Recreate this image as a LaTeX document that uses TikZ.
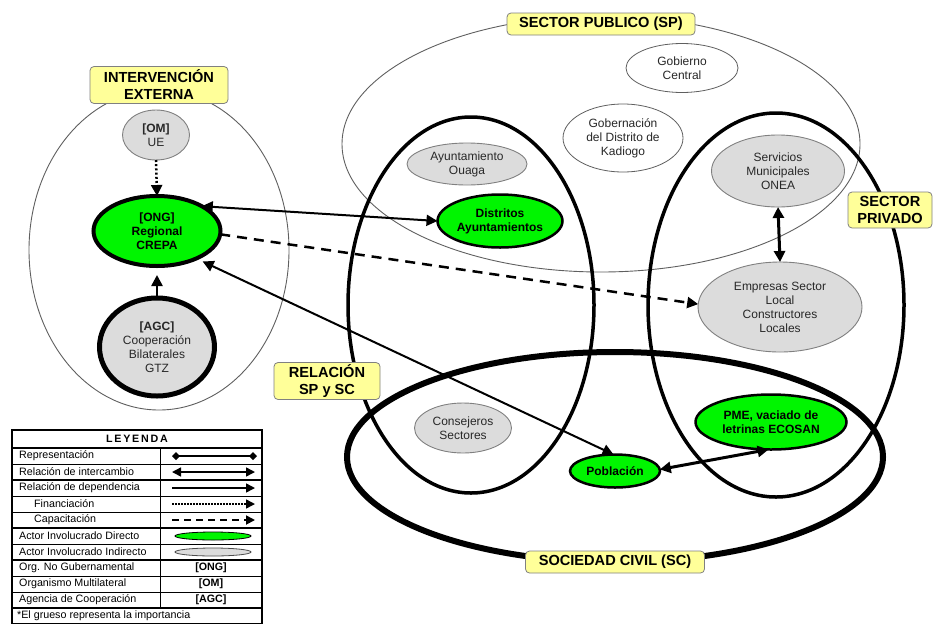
\documentclass[tikz,border=0pt]{standalone}
\usepackage{fontspec}
\setmainfont{Liberation Sans}
\usetikzlibrary{shapes.geometric,arrows.meta}
\definecolor{vgreen}{RGB}{0,245,0}
\definecolor{lgray}{RGB}{220,220,220}
\definecolor{lyellow}{RGB}{255,255,153}
\definecolor{ringgray}{RGB}{95,95,95}
\definecolor{txtgray}{RGB}{40,40,40}
\begin{document}
\begin{tikzpicture}[x=1pt,y=-1pt,
  region/.style={ellipse, inner sep=0pt, outer sep=0pt},
  thinreg/.style={region, draw=ringgray, line width=0.9pt},
  thickreg/.style={region, draw=black, line width=3.5pt},
  actor/.style={ellipse, inner sep=0pt, outer sep=0pt, align=center, text=txtgray, font=\fontsize{12}{14}\selectfont},
  whiteactor/.style={actor, draw=ringgray, line width=0.8pt, fill=white},
  grayactor/.style={actor, draw=gray, line width=0.9pt, fill=lgray},
  greenactor/.style={actor, draw=black, line width=2.5pt, fill=vgreen, text=black, font=\fontsize{12}{14}\selectfont\bfseries},
  tag/.style={draw=gray, line width=0.8pt, fill=lyellow, rounded corners=4pt, inner sep=0pt, align=center, font=\fontsize{14.6}{17}\selectfont\bfseries},
  bigtip/.style={-{Triangle[length=11pt,width=11pt]}},
  twotip/.style={{Triangle[length=11pt,width=11pt]}-{Triangle[length=11pt,width=11pt]}},
  legtext/.style={anchor=west, inner sep=0pt, font=\fontsize{10.7}{12}\selectfont},
  legcode/.style={inner sep=0pt, font=\fontsize{10.7}{12}\selectfont\bfseries},
  legtip/.style={-{Triangle[length=9pt,width=9pt]}},
]
\useasboundingbox (0,0) rectangle (933,624);

% ---------------- regions ----------------
\node[thinreg, minimum width=260pt, minimum height=320pt] (ie) at (159,250) {};
\node[thinreg, minimum width=518pt, minimum height=256pt] (sp) at (601,144) {};
\node[thickreg, minimum width=246pt, minimum height=376pt] (rel) at (471,305) {};
\node[thickreg, minimum width=256pt, minimum height=384pt] (priv) at (776,305) {};
\node[thickreg, line width=6pt, minimum width=536pt, minimum height=210pt] (sc) at (615,457) {};

% ---------------- actors ----------------
\node[grayactor, minimum width=67pt, minimum height=50pt] (ue) at (156,135) {\textbf{[OM]}\\UE};
\node[greenactor, line width=4pt, minimum width=127pt, minimum height=70pt] (crepa) at (157,231) {[ONG]\\Regional\\CREPA};
\node[grayactor, draw=black, line width=5pt, minimum width=115pt, minimum height=98pt] (agc) at (157,347) {\textbf{[AGC]}\\Cooperación\\Bilaterales\\GTZ};
\node[whiteactor, minimum width=112pt, minimum height=49pt] (gob) at (682,68) {Gobierno\\Central};
\node[whiteactor, minimum width=120pt, minimum height=68pt] (kad) at (623,138) {Gobernación\\del Distrito de\\Kadiogo};
\node[grayactor, minimum width=120pt, minimum height=42pt] (ouaga) at (467,164) {Ayuntamiento\\Ouaga};
\node[greenactor, minimum width=125pt, minimum height=53pt] (dist) at (500,221) {Distritos\\Ayuntamientos};
\node[grayactor, minimum width=133pt, minimum height=72pt] (serv) at (778,171) {Servicios\\Municipales\\ONEA};
\node[grayactor, minimum width=164pt, minimum height=90pt] (emp) at (780,307) {Empresas Sector\\Local\\Constructores\\Locales};
\node[grayactor, minimum width=97pt, minimum height=50pt] (cons) at (463,428) {Consejeros\\Sectores};
\node[greenactor, minimum width=90pt, minimum height=33pt] (pob) at (615,471) {Población};
\node[greenactor, minimum width=151pt, minimum height=55pt] (pme) at (771,422) {PME, vaciado de\\letrinas ECOSAN};

% ---------------- tags ----------------
\node[tag, minimum width=138pt, minimum height=37pt] (tie) at (159,85) {INTERVENCIÓN\\EXTERNA};
\node[tag, minimum width=188pt, minimum height=22pt] (tsp) at (601,24) {SECTOR PUBLICO (SP)};
\node[tag, minimum width=84pt, minimum height=36pt] (tpriv) at (890,210) {SECTOR\\PRIVADO};
\node[tag, minimum width=106pt, minimum height=37pt] (trel) at (327,381) {RELACIÓN\\SP y SC};
\node[tag, minimum width=179pt, minimum height=22pt] (tsc) at (615,562) {SOCIEDAD CIVIL (SC)};

% ---------------- connectors ----------------
\draw[bigtip, line width=2.5pt, dash pattern=on 2pt off 2.2pt] (ue.south) -- (crepa.north);
\draw[bigtip, line width=2.5pt, shorten >=9pt] (agc.north) -- (crepa.south);
\draw[twotip, line width=2pt] (crepa.29) -- (dist.180);
\draw[bigtip, line width=2.5pt, dash pattern=on 10pt off 7pt] (crepa.-3) -- (emp.178);
\draw[twotip, line width=2pt, shorten <=7pt] (crepa.-35) -- (pob.95);
\draw[twotip, line width=3pt] (pob.2) -- (pme.-95);
\draw[twotip, line width=3pt] (serv.south) -- (emp.north);

% ---------------- legend ----------------
\draw[line width=1pt] (160,448) -- (160,608);
\foreach \yy in {464,496,512,544,576,592} \draw[line width=0.9pt] (12,\yy) -- (262,\yy);
\foreach \yy in {448,480,528,560,608} \draw[line width=1.6pt] (12,\yy) -- (262,\yy);
\draw[line width=1.6pt] (12,430) rectangle (262,623.5);

\node[font=\fontsize{10.7}{12}\selectfont\bfseries, inner sep=0pt] (leyenda) at (137,439) {L\,E\,Y\,E\,N\,D\,A};
\node[legtext] (lt1) at (19,456) {Representación};
\node[legtext] (lt2) at (19,472) {Relación de intercambio};
\node[legtext] (lt3) at (19,488) {Relación de dependencia};
\node[legtext] (lt4) at (34,504) {Financiación};
\node[legtext] (lt5) at (34,520) {Capacitación};
\node[legtext] (lt6) at (19,536) {Actor Involucrado Directo};
\node[legtext] (lt7) at (19,552) {Actor Involucrado Indirecto};
\node[legtext] (lt8) at (19,568) {Org. No Gubernamental};
\node[legtext] (lt9) at (19,584) {Organismo Multilateral};
\node[legtext] (lt10) at (19,600) {Agencia de Cooperación};
\node[legtext] (lt11) at (17,616) {*El grueso representa la importancia};

\coordinate (s1a) at (172,456); \coordinate (s1b) at (257,456);
\coordinate (s2a) at (172,472); \coordinate (s2b) at (255,472);
\coordinate (s3a) at (172,488); \coordinate (s3b) at (255,488);
\coordinate (s4a) at (172,504); \coordinate (s4b) at (255,504);
\coordinate (s5a) at (172,520); \coordinate (s5b) at (255,520);
\draw[line width=1.5pt, {Diamond[length=8pt,width=8pt]}-{Diamond[length=8pt,width=8pt]}] (s1a) -- (s1b);
\draw[line width=1.5pt, {Triangle[length=9pt,width=9pt]}-{Triangle[length=9pt,width=9pt]}] (s2a) -- (s2b);
\draw[line width=1.5pt, legtip] (s3a) -- (s3b);
\draw[line width=1.5pt, legtip, dash pattern=on 1.5pt off 1.5pt] (s4a) -- (s4b);
\draw[line width=1.8pt, legtip, dash pattern=on 7pt off 5pt] (s5a) -- (s5b);
\node[ellipse, draw=black, line width=0.8pt, fill=vgreen, minimum width=76pt, minimum height=8pt, inner sep=0pt] (lg1) at (213,536) {};
\node[ellipse, draw=black!70, line width=0.8pt, fill=lgray, minimum width=76pt, minimum height=8pt, inner sep=0pt] (lg2) at (213,552) {};
\node[legcode] (lc1) at (211,568) {[ONG]};
\node[legcode] (lc2) at (211,584) {[OM]};
\node[legcode] (lc3) at (211,600) {[AGC]};
\end{tikzpicture}
\end{document}
